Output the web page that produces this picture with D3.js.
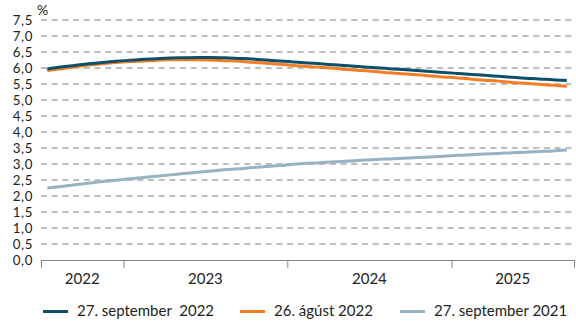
<!DOCTYPE html>
<html>
<head>
<meta charset="utf-8">
<script src="https://cdn.jsdelivr.net/npm/d3@7"></script>
<style>
  html, body { margin: 0; padding: 0; background: #fff; }
  svg { display: block; font-family: Lato, "Open Sans", sans-serif; }
</style>
</head>
<body>
<svg id="chart" width="576" height="321"></svg>
<script>
// Monthly path of the rate, July 2022 – September 2025 (%)
const startMonth = "2022-07";
const sep2022 = [5.97, 6.03, 6.08, 6.13, 6.17, 6.21, 6.24, 6.27, 6.29, 6.31, 6.32, 6.33, 6.33,
  6.32, 6.30, 6.28, 6.25, 6.22, 6.19, 6.16, 6.13, 6.10, 6.07, 6.04, 6.01, 5.98,
  5.95, 5.92, 5.89, 5.86, 5.83, 5.80, 5.77, 5.74, 5.71, 5.68, 5.66, 5.63, 5.61];
const aug2022 = [5.92, 5.98, 6.04, 6.09, 6.13, 6.17, 6.20, 6.22, 6.24, 6.26, 6.26, 6.26, 6.25,
  6.23, 6.21, 6.18, 6.15, 6.12, 6.08, 6.05, 6.02, 5.99, 5.95, 5.92, 5.89, 5.85,
  5.82, 5.79, 5.75, 5.72, 5.69, 5.65, 5.62, 5.59, 5.55, 5.52, 5.49, 5.46, 5.43];
const sep2021 = [2.25, 2.30, 2.35, 2.40, 2.45, 2.49, 2.54, 2.58, 2.62, 2.66, 2.70, 2.74, 2.78,
  2.82, 2.85, 2.89, 2.92, 2.95, 2.99, 3.02, 3.04, 3.07, 3.09, 3.12, 3.14, 3.16,
  3.18, 3.20, 3.22, 3.24, 3.27, 3.29, 3.31, 3.33, 3.35, 3.37, 3.39, 3.41, 3.44];

const seriesNames = ["27. september  2022", "26. ágúst 2022", "27. september 2021"];
const seriesColors = ["#0d4f6b", "#f57e25", "#97b3c2"];
const yearLabels = ["2022", "2023", "2024", "2025"];
const yTicks = d3.range(0, 7.51, 0.5);

const svg = d3.select("#chart");
const plotLeft = 41, plotRight = 574, plotTop = 20, plotBottom = 260;
const fontSize = 15;

const parseMonth = d3.timeParse("%Y-%m");
const first = parseMonth(startMonth);
const monthStarts = d3.timeMonth.range(first, d3.timeMonth.offset(first, sep2022.length + 1));
const domainEnd = monthStarts[sep2022.length];

const x = d3.scaleTime().domain([first, domainEnd]).range([plotLeft, plotRight]);
const y = d3.scaleLinear().domain([0, 7.5]).range([plotBottom, plotTop]);

const fmt = v => d3.format(".1f")(v).replace(".", ",");

// horizontal dashed gridlines
svg.append("g")
  .selectAll("line")
  .data(yTicks.filter(v => v > 0))
  .join("line")
  .attr("x1", plotLeft).attr("x2", 576)
  .attr("y1", d => y(d)).attr("y2", d => y(d))
  .attr("stroke", "#a8a8a8")
  .attr("stroke-width", 1.3)
  .attr("stroke-dasharray", "6,4.7");

// y axis labels
const yAxis = d3.axisLeft(y).tickValues(yTicks).tickFormat(fmt).tickSize(0).tickPadding(8);
const gy = svg.append("g").attr("transform", `translate(${plotLeft},0)`).call(yAxis);
gy.select(".domain").remove();
gy.selectAll("text").attr("font-size", 13.3).attr("fill", "#222")
  .attr("font-family", "Lato, sans-serif").attr("dy", "0.36em")
  .attr("letter-spacing", "0.6px");

svg.append("text").attr("x", 37).attr("y", 15).text("%")
  .attr("font-size", 14).attr("fill", "#222");

// x axis with year boundaries
const yearStarts = [first, new Date(2023, 0, 1), new Date(2024, 0, 1), new Date(2025, 0, 1), domainEnd];
const xAxis = d3.axisBottom(x).tickValues(yearStarts).tickSize(8).tickFormat("");
const gx = svg.append("g").attr("transform", `translate(0,${plotBottom})`).call(xAxis);
gx.select(".domain").attr("stroke", "#888").attr("d", `M${plotLeft},0.5H${plotRight}`);
gx.selectAll(".tick line").attr("stroke", "#888");

svg.append("g")
  .selectAll("text")
  .data(yearLabels)
  .join("text")
  .attr("x", (d, i) => (x(yearStarts[i]) + x(yearStarts[i + 1])) / 2)
  .attr("y", 283.5)
  .attr("text-anchor", "middle")
  .attr("font-size", fontSize)
  .attr("fill", "#222")
  .text(d => d);

// lines, one point at each mid-month
const midMonth = i => d3.timeDay.offset(monthStarts[i], 14);
const line = d3.line()
  .x((d, i) => x(midMonth(i)))
  .y(d => y(d))
  .curve(d3.curveMonotoneX);

const allSeries = [sep2021, aug2022, sep2022];
const order = [2, 1, 0];
svg.append("g")
  .selectAll("path")
  .data(allSeries)
  .join("path")
  .attr("d", d => line(d))
  .attr("fill", "none")
  .attr("stroke", (d, i) => seriesColors[order[i]])
  .attr("stroke-width", 3);

// legend
const legendX = [43, 240, 400];
const lg = svg.append("g").selectAll("g").data(seriesNames).join("g")
  .attr("transform", (d, i) => `translate(${legendX[i]},316)`);
lg.append("line").attr("x1", 0).attr("x2", 25).attr("y1", -4.5).attr("y2", -4.5)
  .attr("stroke", (d, i) => seriesColors[i]).attr("stroke-width", 3);
lg.append("text").attr("x", 34).attr("y", 0)
  .attr("font-size", fontSize).attr("fill", "#222")
  .style("white-space", "pre")
  .text(d => d);
</script>
</body>
</html>
